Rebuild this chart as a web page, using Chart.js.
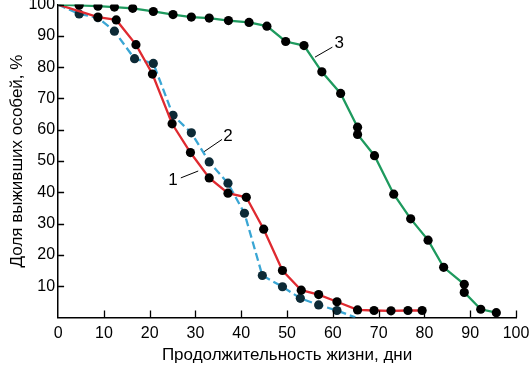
<!DOCTYPE html>
<html>
<head>
<meta charset="utf-8">
<script src="https://cdn.jsdelivr.net/npm/chart.js@4/dist/chart.umd.min.js"></script>
<style>
  html, body { margin: 0; padding: 0; background: #fff; }
  #wrap { width: 531px; height: 369px; }
</style>
</head>
<body>
<div id="wrap"><canvas id="grafico"></canvas></div>
<script>
// значения
const xTicks = [0, 10, 20, 30, 40, 50, 60, 70, 80, 90, 100];
const yTicks = [10, 20, 30, 40, 50, 60, 70, 80, 90, 100];

// кривая 1 (красная)
const dni1 = [0, 8.7, 12.7, 17, 20.6, 24.9, 28.9, 33, 37.1, 41.1, 44.9, 49, 53.1, 56.9, 60.9, 65.4, 69, 72.7, 76.4, 79.5];
const dolya1 = [100, 96, 95.1, 87.2, 77.8, 61.9, 52.7, 44.6, 39.7, 38.4, 28.2, 15, 8.7, 7.3, 5, 2.4, 2.2, 2.1, 2.2, 2.2];

// кривая 2 (голубая, пунктир)
const dni2 = [0, 4.6, 8.7, 12.3, 16.7, 20.8, 25.1, 29.1, 33, 37.1, 40.7, 44.6, 49, 52.9, 56.9, 60.9, 64.9];
const dolya2 = [100, 97, 95.8, 91.5, 82.7, 81.2, 64.6, 59, 49.7, 42.9, 33.3, 13.4, 9.8, 6.1, 4, 2.2, 0];

// кривая 3 (зелёная)
const dni3 = [0, 4.6, 8.7, 12.3, 16.3, 20.8, 25.1, 29.1, 33, 37.2, 41.7, 45.6, 49.7, 53.7, 57.6, 61.7, 65.4, 65.4, 69.1, 73.3, 77, 80.8, 84.2, 88.7, 88.7, 92.3, 95.7];
const dolya3 = [100, 99.8, 99.5, 99.2, 98.8, 97.8, 96.8, 96, 95.7, 94.9, 94.3, 93.1, 88.2, 86.9, 78.5, 71.6, 60.8, 58.5, 51.7, 39.4, 31.5, 24.7, 16, 10.6, 8, 2.6, 1.5];

// подписи кривых: текст, позиция, выноска (в единицах осей)
const podpisi = [
    { text: '1', x: 25.1, y: 43.9, line: [26.8, 44.6, 30.6, 46.8] },
    { text: '2', x: 37.1, y: 57.8, line: [31.9, 53.0, 35.8, 56.9] },
    { text: '3', x: 61.4, y: 87.6, line: [56.1, 83.2, 59.9, 86.4] }
];

const FONT = '"Liberation Sans", Arial, sans-serif';

function pontos(xs, ys) {
    return xs.map((x, i) => ({ x: x, y: ys[i] }));
}

// точка в начале (0; 100) и в конце голубой кривой без маркера
function raios(xs, semFim) {
    return xs.map((x, i) => (i === 0 || (semFim && i === xs.length - 1)) ? 0 : 4.6);
}

const marcasInternas = {
    id: 'marcasInternas',
    afterDraw(chart) {
        const ctx = chart.ctx;
        const a = chart.chartArea;
        const sx = chart.scales.x, sy = chart.scales.y;
        ctx.save();
        ctx.strokeStyle = '#000';
        ctx.lineWidth = 1.3;
        ctx.beginPath();
        xTicks.forEach(v => {
            if (v === 0) return;
            const px = Math.round(sx.getPixelForValue(v)) + 0.5;
            ctx.moveTo(px, a.bottom);
            ctx.lineTo(px, a.bottom - 7);
        });
        yTicks.forEach(v => {
            const py = Math.round(sy.getPixelForValue(v)) + 0.5;
            ctx.moveTo(a.left, py);
            ctx.lineTo(a.left + 6, py);
        });
        ctx.stroke();

        // подписи кривых
        ctx.font = '17px ' + FONT;
        ctx.fillStyle = '#000';
        ctx.textAlign = 'center';
        ctx.textBaseline = 'middle';
        ctx.lineWidth = 1;
        podpisi.forEach(p => {
            ctx.beginPath();
            ctx.moveTo(sx.getPixelForValue(p.line[0]), sy.getPixelForValue(p.line[1]));
            ctx.lineTo(sx.getPixelForValue(p.line[2]), sy.getPixelForValue(p.line[3]));
            ctx.stroke();
            ctx.fillText(p.text, sx.getPixelForValue(p.x), sy.getPixelForValue(p.y));
        });
        ctx.restore();
    }
};

const ctx = document.getElementById('grafico').getContext('2d');
new Chart(ctx, {
    type: 'scatter',
    data: {
        datasets: [
            {
                label: '3',
                data: pontos(dni3, dolya3),
                showLine: true,
                borderColor: '#1e9a5e',
                borderWidth: 2.3,
                pointRadius: raios(dni3, false),
                pointBackgroundColor: '#000',
                pointBorderColor: '#000',
                pointBorderWidth: 0
            },
            {
                label: '1',
                data: pontos(dni1, dolya1),
                showLine: true,
                borderColor: '#df2a30',
                borderWidth: 2.3,
                pointRadius: raios(dni1, false),
                pointBackgroundColor: '#000',
                pointBorderColor: '#000',
                pointBorderWidth: 0
            },
            {
                label: '2',
                data: pontos(dni2, dolya2),
                showLine: true,
                borderColor: '#3aa6d4',
                borderWidth: 2.3,
                borderDash: [8, 4],
                pointRadius: raios(dni2, true),
                pointBackgroundColor: '#0d2a36',
                pointBorderColor: '#0d2a36',
                pointBorderWidth: 0
            }
        ]
    },
    options: {
        responsive: true,
        maintainAspectRatio: false,
        animation: false,
        layout: { padding: { top: 4, right: 15, left: 7, bottom: 3 } },
        plugins: {
            legend: { display: false },
            tooltip: { enabled: false }
        },
        scales: {
            x: {
                type: 'linear',
                min: 0,
                max: 100,
                grid: { display: false, drawTicks: false },
                border: { display: true, color: '#000', width: 1.5 },
                afterBuildTicks: function (axis) {
                    axis.ticks = xTicks.map(v => ({ value: v }));
                },
                afterFit: function (axis) {
                    axis.paddingLeft = 0;
                    axis.paddingRight = 0;
                },
                ticks: {
                    color: '#000',
                    padding: 7,
                    font: { family: FONT, size: 16 }
                },
                title: {
                    display: true,
                    text: 'Продолжительность жизни, дни',
                    color: '#000',
                    padding: { top: -5, bottom: 0 },
                    font: { family: FONT, size: 17 }
                }
            },
            y: {
                type: 'linear',
                min: 0,
                max: 100,
                grid: { display: false, drawTicks: false },
                border: { display: true, color: '#000', width: 1.5 },
                afterBuildTicks: function (axis) {
                    axis.ticks = yTicks.map(v => ({ value: v }));
                },
                afterFit: function (axis) {
                    axis.paddingTop = 0;
                    axis.paddingBottom = 0;
                },
                ticks: {
                    color: '#000',
                    padding: 3,
                    font: { family: FONT, size: 16 }
                },
                title: {
                    display: true,
                    text: 'Доля выживших особей, %',
                    color: '#000',
                    padding: { top: 0, bottom: -2 },
                    font: { family: FONT, size: 17 }
                }
            }
        }
    },
    plugins: [marcasInternas]
});
</script>
</body>
</html>
